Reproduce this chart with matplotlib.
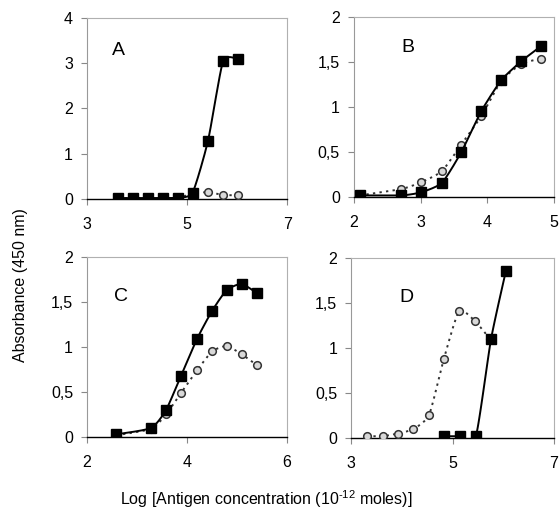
import numpy as np
import matplotlib
matplotlib.use("Agg")
import matplotlib.pyplot as plt

plt.rcParams['font.family'] = ['Liberation Sans', 'DejaVu Sans']

# Panel A
a_x = [3.62, 3.92, 4.22, 4.52, 4.81, 5.11, 5.42, 5.72, 6.02]
a_sq = [0.02, 0.02, 0.02, 0.02, 0.03, 0.14, 1.29, 3.04, 3.09]
a_ci = [0.02, 0.02, 0.02, 0.02, 0.02, 0.12, 0.15, 0.09, 0.08]

# Panel B
b_x = [2.09, 2.71, 3.01, 3.32, 3.61, 3.91, 4.21, 4.51, 4.81]
b_sq = [0.02, 0.02, 0.055, 0.16, 0.50, 0.955, 1.30, 1.51, 1.68]
b_ci = [0.02, 0.09, 0.167, 0.29, 0.585, 0.90, 1.29, 1.48, 1.54]

# Panel C
c_x = [2.59, 3.28, 3.58, 3.88, 4.20, 4.50, 4.79, 5.09, 5.39]
c_sq = [0.03, 0.10, 0.30, 0.68, 1.09, 1.40, 1.63, 1.70, 1.60]
c_ci = [0.02, 0.09, 0.25, 0.49, 0.74, 0.95, 1.01, 0.92, 0.80]

# Panel D
d_ci_x = [3.31, 3.62, 3.92, 4.23, 4.54, 4.83, 5.13, 5.44, 5.74]
d_ci = [0.02, 0.02, 0.05, 0.10, 0.26, 0.88, 1.41, 1.30, 1.10]
d_sq_x = [4.84, 5.15, 5.46, 5.76, 6.05]
d_sq = [0.02, 0.02, 0.02, 1.10, 1.85]

panels = [
    ("A", a_x, a_sq, a_x, a_ci, (3, 7), [3, 5, 7], (0, 4), [0, 1, 2, 3, 4], ["0", "1", "2", "3", "4"]),
    ("B", b_x, b_sq, b_x, b_ci, (2, 5), [2, 3, 4, 5], (0, 2), [0, 0.5, 1, 1.5, 2], ["0", "0,5", "1", "1,5", "2"]),
    ("C", c_x, c_sq, c_x, c_ci, (2, 6), [2, 4, 6], (0, 2), [0, 0.5, 1, 1.5, 2], ["0", "0,5", "1", "1,5", "2"]),
    ("D", d_sq_x, d_sq, d_ci_x, d_ci, (3, 7), [3, 5, 7], (0, 2), [0, 0.5, 1, 1.5, 2], ["0", "0,5", "1", "1,5", "2"]),
]

# axes boxes [left, bottom, width, height] and letter positions (axes fraction)
boxes = [
    [0.1556, 0.6166, 0.358, 0.349],
    [0.633, 0.620, 0.358, 0.347],
    [0.1556, 0.158, 0.358, 0.347],
    [0.628, 0.156, 0.363, 0.347],
]
letters = [(0.155, 0.82), (0.27, 0.83), (0.17, 0.78), (0.275, 0.78)]


def smooth(x, y, k=0.6, n=20):
    """Hermite curve through the points with softened tangents (Excel-like smoothing)."""
    x = np.asarray(x, float)
    y = np.asarray(y, float)
    px = np.concatenate([[x[0]], x, [x[-1]]])
    py = np.concatenate([[y[0]], y, [y[-1]]])
    t = np.linspace(0, 1, n)
    h00 = 2 * t**3 - 3 * t**2 + 1
    h10 = t**3 - 2 * t**2 + t
    h01 = -2 * t**3 + 3 * t**2
    h11 = t**3 - t**2
    xs, ys = [], []
    for i in range(1, len(px) - 2):
        for p, out in ((px, xs), (py, ys)):
            m1 = k * (p[i + 1] - p[i - 1]) / 2
            m2 = k * (p[i + 2] - p[i]) / 2
            out.extend(h00 * p[i] + h10 * m1 + h01 * p[i + 1] + h11 * m2)
    return xs, ys


fig = plt.figure(figsize=(5.59, 5.19), dpi=100)

for (lab, sx, sy, cx, cy, xlim, xt, ylim, yt, ytl), box, lpos in zip(panels, boxes, letters):
    ax = fig.add_axes(box)
    xs, ys = smooth(cx, cy)
    ax.plot(xs, ys, color='#333333', linestyle=(0, (1.2, 2.2)), linewidth=1.4, zorder=2)
    ax.plot(cx, cy, linestyle='none', marker='o', markersize=5.5, markerfacecolor='#d8d8d8',
            markeredgecolor='#333333', markeredgewidth=1.1, zorder=3)
    xs, ys = smooth(sx, sy)
    ax.plot(xs, ys, color='black', linewidth=1.4, zorder=4)
    ax.plot(sx, sy, linestyle='none', marker='s', markersize=7, color='black', zorder=5)

    ax.set_xlim(*xlim)
    ax.set_ylim(*ylim)
    ax.set_xticks(xt)
    ax.set_yticks(yt)
    ax.set_yticklabels(ytl)
    ax.tick_params(labelsize=11.5, length=4, width=0.8, color='#888888')
    ax.tick_params(axis='x', pad=9)
    ax.tick_params(axis='y', pad=6)
    for s in ('top', 'right'):
        ax.spines[s].set_color('#b0b0b0')
        ax.spines[s].set_linewidth(0.8)
    ax.spines['left'].set_color('#999999')
    ax.spines['bottom'].set_color('black')
    ax.spines['bottom'].set_linewidth(1.0)
    for sp in ax.spines.values():
        sp.set_clip_on(False)
    ax.text(lpos[0], lpos[1], lab, transform=ax.transAxes, fontsize=14, ha='center', va='center')

fig.text(0.036, 0.45, "Absorbance (450 nm)", rotation=90, fontsize=11.5, ha='center', va='center')
fig.text(0.476, 0.038, "Log [Antigen concentration (10$^{\\mathregular{-12}}$ moles)]".replace("-", "\u2010"),
         fontsize=11.5, ha='center', va='center')

fig.savefig("out.png", dpi=100)
